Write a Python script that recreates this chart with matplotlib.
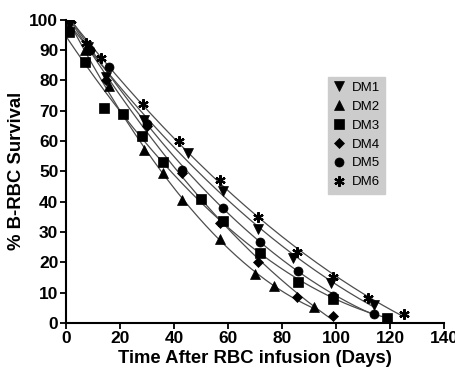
import numpy as np
import matplotlib
matplotlib.use("Agg")
import matplotlib.pyplot as plt

plt.rcParams["font.family"] = ["Liberation Sans", "DejaVu Sans"]

# days after infusion / % surviving biotin-labelled RBC, per subject
dm1_day = [1, 8, 15, 29, 45, 58, 71, 84, 98, 114]
dm1_pct = [100, 91, 81, 67, 56, 43.5, 31, 21.5, 13.2, 6]
dm2_day = [1, 7, 16, 29, 36, 43, 57, 70, 77, 92]
dm2_pct = [98, 90, 78, 57, 49.5, 40.5, 27.5, 16, 12, 5.3]
dm3_day = [1, 7, 14, 21, 28, 36, 50, 58, 72, 86, 99, 119]
dm3_pct = [96, 86, 71, 69, 61.5, 53, 41, 33.7, 23, 13.6, 8, 1.7]
dm4_day = [1, 9, 15, 30, 43, 57, 71, 85.5, 99]
dm4_pct = [100, 90, 80, 65, 49.5, 33, 20, 8.6, 2.3]
dm5_day = [1, 9, 16, 30, 43, 58, 72, 86, 99, 114]
dm5_pct = [100, 90, 84.5, 65.5, 50.5, 38, 26.7, 17, 9, 3]
dm6_day = [2, 7.4, 13, 28.4, 42, 57, 71, 85.5, 99, 112, 125]
dm6_pct = [100, 92.4, 87.4, 72, 60, 47, 35, 23.5, 15.2, 8.3, 3]

labels = ["DM1", "DM2", "DM3", "DM4", "DM5", "DM6"]
days = [dm1_day, dm2_day, dm3_day, dm4_day, dm5_day, dm6_day]
pcts = [dm1_pct, dm2_pct, dm3_pct, dm4_pct, dm5_pct, dm6_pct]
markers = ["v", "^", "s", "D", "o", (6, 2, 0)]
msizes = [6.5, 6.5, 6.5, 5, 6.5, 7.5]

fig = plt.figure(figsize=(4.55, 3.69), dpi=100)
ax = fig.add_axes([0.145, 0.125, 0.831, 0.822])

for d, p, m, ms, lab in zip(days, pcts, markers, msizes, labels):
    d = np.asarray(d, float)
    p = np.asarray(p, float)
    # quadratic fit through each subject's points
    coef = np.polyfit(d, p, 2)
    xs = np.linspace(0, d.max(), 200)
    ax.plot(xs, np.polyval(coef, xs), "-", color="0.3", lw=0.9, zorder=2)
    ax.plot(d, p, ls="none", marker=m, ms=ms, color="black", mec="black",
            mew=1.6 if m == (6, 2, 0) else 0.5, zorder=3, label=lab)

ax.set_xlim(0, 140)
ax.set_ylim(0, 100)
ax.set_xticks(range(0, 141, 20))
ax.set_yticks(range(0, 101, 10))
for s in ("top", "right"):
    ax.spines[s].set_visible(False)
for s in ("left", "bottom"):
    ax.spines[s].set_linewidth(1.5)
ax.tick_params(direction="out", length=4, width=1.3, labelsize=12.5, pad=1.5)
for t in ax.get_xticklabels() + ax.get_yticklabels():
    t.set_fontweight("bold")

ax.set_xlabel("Time After RBC infusion (Days)", fontsize=13.3, fontweight="bold",
              labelpad=3)
ax.set_ylabel("% B-RBC Survival", fontsize=13.3, fontweight="bold", labelpad=3)

leg = ax.legend(loc="upper left", bbox_to_anchor=(0.693, 0.812), frameon=True,
                fontsize=9.5, handlelength=0.8, handletextpad=0.6,
                labelspacing=0.5, borderpad=0.4, borderaxespad=0)
leg.get_frame().set_facecolor("#cccccc")
leg.get_frame().set_edgecolor("#cccccc")
leg.get_frame().set_alpha(1)
leg.get_frame().set_boxstyle("square", pad=0)

fig.savefig("out.png", dpi=100)
